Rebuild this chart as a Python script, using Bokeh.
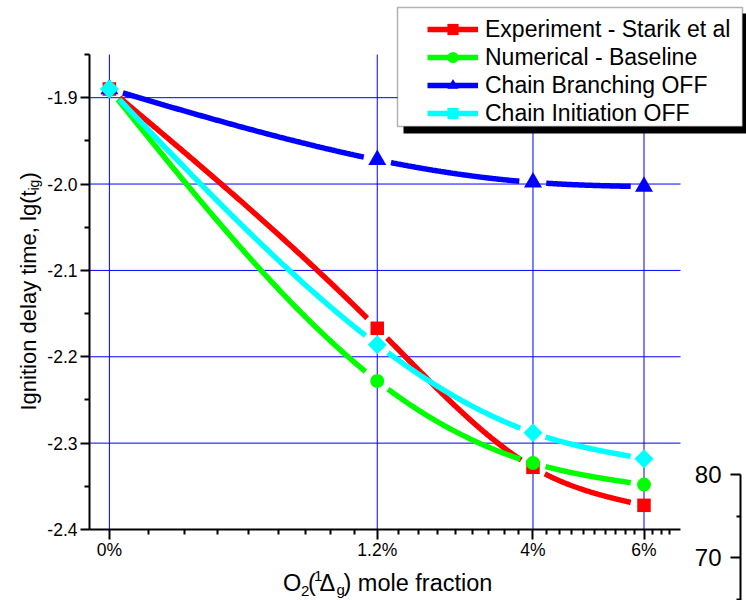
import math
import numpy as np
from bokeh.plotting import figure
from bokeh.models import (Range1d, LinearAxis, FixedTicker, NumeralTickFormatter,
                          Legend, LegendItem, BoxAnnotation, Label)
from bokeh.embed import file_html
from bokeh.resources import INLINE

FONT = "Liberation Sans"

# ---------------- data ----------------
x_labels = ["0%", "1.2%", "4%", "6%"]
# position of each category on the original (reciprocal) x scale, counted in minor-tick steps
x_scale_steps = [0, 9, 18, 28]
x_minor_steps = [k for k in range(1, 32) if k not in x_scale_steps]

experiment = [-1.890, -2.167, -2.328, -2.372]
baseline = [-1.890, -2.228, -2.323, -2.348]
branching_off = [-1.890, -1.972, -1.998, -2.003]
initiation_off = [-1.890, -2.186, -2.288, -2.318]
series_names = ["Experiment - Starik et al", "Numerical - Baseline",
                "Chain Branching OFF", "Chain Initiation OFF"]

y_ticks = [-1.9, -2.0, -2.1, -2.2, -2.3, -2.4]
y_minor = [-1.85, -1.95, -2.05, -2.15, -2.25, -2.35]
stray_ticks = [70, 80]
stray_minor = [65, 75]

# ---------------- geometry (canvas pixels, origin top-left) ----------------
W, H = 746, 600
AX_LEFT, AX_RIGHT, AX_TOP, AX_BOTTOM = 89, 680, 54, 529
PX_FIRST, PX_LAST = 108.9, 643.5


def recip(k):
    return -1000.0 / (k + 25.0)


xp = [recip(k) for k in x_scale_steps]
sx = (PX_LAST - PX_FIRST) / (xp[-1] - xp[0])          # px per x unit
x_start = xp[0] - PX_FIRST / sx                         # value at canvas x = 0
x_end = x_start + W / sx
y_lo, y_hi = -2.4, -1.85
sy = (AX_BOTTOM - AX_TOP) / (y_hi - y_lo)              # px per y unit
y_start = y_lo - (H - AX_BOTTOM) / sy                   # value at canvas bottom
y_end = y_hi + AX_TOP / sy                              # value at canvas top


def xv(px):
    return x_start + px / sx


p = figure(width=W, height=H, x_range=Range1d(x_start, x_end),
           y_range=Range1d(y_start, y_end), output_backend="svg",
           toolbar_location=None)
p.min_border = 0
p.min_border_left = p.min_border_right = p.min_border_top = p.min_border_bottom = 0
p.outline_line_color = None
p.background_fill_color = "white"
p.border_fill_color = "white"
p.xgrid.visible = False
p.ygrid.visible = False

# x axis
xa = p.xaxis[0]
xa.fixed_location = y_lo
xa.ticker = FixedTicker(ticks=xp, minor_ticks=[recip(k) for k in x_minor_steps])
xa.major_label_overrides = {v: lab for v, lab in zip(xp, x_labels)}
xa.bounds = (xv(AX_LEFT), xv(AX_RIGHT))
xa.axis_line_width = 2
xa.major_tick_line_width = 2
xa.minor_tick_line_width = 2
xa.major_tick_out = 10
xa.major_tick_in = 0
xa.minor_tick_out = 5
xa.minor_tick_in = 0
xa.major_label_standoff = 0
xa.major_label_text_font = FONT
xa.major_label_text_font_size = "17.5px"
xa.major_label_text_color = "black"

# y axis
ya = p.yaxis[0]
ya.fixed_location = xv(AX_LEFT)
ya.ticker = FixedTicker(ticks=y_ticks, minor_ticks=y_minor)
ya.formatter = NumeralTickFormatter(format="0.0")
ya.bounds = (y_lo, y_hi)
ya.axis_line_width = 2
ya.major_tick_line_width = 2
ya.minor_tick_line_width = 2
ya.major_tick_out = 9
ya.major_tick_in = 0
ya.minor_tick_out = 5
ya.minor_tick_in = 0
ya.major_label_standoff = 3
ya.major_label_text_font = FONT
ya.major_label_text_font_size = "17.5px"
ya.major_label_text_color = "black"

# grid lines (drawn as segments so they stop where the axes stop)
p.segment(x0=xp, y0=[y_lo] * len(xp), x1=xp, y1=[y_hi] * len(xp),
          line_color="#0000ff", line_width=1)
gy = y_ticks[:-1]
p.segment(x0=[xv(AX_LEFT)] * len(gy), y0=gy, x1=[xv(AX_RIGHT)] * len(gy), y1=gy,
          line_color="#0000ff", line_width=1)


# ---------------- curves ----------------
def natural_cubic(xk, yk, n=160):
    xk = np.asarray(xk, float)
    yk = np.asarray(yk, float)
    m = len(xk)
    h = np.diff(xk)
    A = np.zeros((m, m))
    r = np.zeros(m)
    A[0, 0] = A[-1, -1] = 1.0
    for i in range(1, m - 1):
        A[i, i - 1] = h[i - 1]
        A[i, i] = 2 * (h[i - 1] + h[i])
        A[i, i + 1] = h[i]
        r[i] = 6 * ((yk[i + 1] - yk[i]) / h[i] - (yk[i] - yk[i - 1]) / h[i - 1])
    M = np.linalg.solve(A, r)
    xs, ys = [], []
    for i in range(m - 1):
        t = np.linspace(xk[i], xk[i + 1], n)
        a = xk[i + 1] - t
        b = t - xk[i]
        y = (M[i] * a ** 3 + M[i + 1] * b ** 3) / (6 * h[i]) \
            + (yk[i] / h[i] - M[i] * h[i] / 6) * a \
            + (yk[i + 1] / h[i] - M[i + 1] * h[i] / 6) * b
        xs.append(t)
        ys.append(y)
    return np.concatenate(xs), np.concatenate(ys)


def gapped(xk, yk, gap=13.0):
    xs, ys = natural_cubic(xk, yk)
    keep = np.ones(len(xs), bool)
    for a, b in zip(xk, yk):
        d = np.hypot((xs - a) * sx, (ys - b) * sy)
        keep &= d > gap
    segs_x, segs_y = [], []
    cur_x, cur_y = [], []
    for k in range(len(xs)):
        if keep[k]:
            cur_x.append(float(xs[k]))
            cur_y.append(float(ys[k]))
        elif cur_x:
            segs_x.append(cur_x)
            segs_y.append(cur_y)
            cur_x, cur_y = [], []
    if cur_x:
        segs_x.append(cur_x)
        segs_y.append(cur_y)
    return segs_x, segs_y


series = [experiment, baseline, branching_off, initiation_off]
colors = ["#ff0000", "#00ff00", "#0000ff", "#00ffff"]
markers = ["square", "circle", "triangle", "square"]
angles = [0.0, 0.0, 0.0, math.pi / 4]
sizes = [13.5, 14, 18, 13.5]

items = []
for vals, col, mk, ang, sz, name in zip(series, colors, markers, angles, sizes, series_names):
    gx, gyy = gapped(xp, vals)
    ml = p.multi_line(xs=gx, ys=gyy, line_color=col, line_width=5.5)
    sc = p.scatter(x=xp, y=vals, marker=mk, size=sz, angle=ang,
                   fill_color=col, line_color=None)
    items.append(LegendItem(label=name, renderers=[ml, sc]))


def scx(px):
    return px


def scy(py):
    return H - py


# ---------------- legend with drop shadow ----------------
shadow = BoxAnnotation(left=scx(403), right=scx(748), top=scy(13), bottom=scy(133),
                       left_units="screen", right_units="screen",
                       top_units="screen", bottom_units="screen",
                       fill_color="black", fill_alpha=1.0, line_color=None)
box = BoxAnnotation(left=scx(397), right=scx(742), top=scy(7), bottom=scy(126),
                    left_units="screen", right_units="screen",
                    top_units="screen", bottom_units="screen",
                    fill_color="white", fill_alpha=1.0, line_color="black",
                    line_width=1.5)
p.add_layout(shadow)
p.add_layout(box)

ROW_H = 28
leg_top = 29 - ROW_H / 2
legend = Legend(items=items, location=(scx(427), scy(leg_top + 4 * ROW_H)),
                padding=0, margin=0, spacing=0, glyph_width=51,
                glyph_height=ROW_H, label_height=ROW_H, label_standoff=7,
                label_text_font=FONT, label_text_font_size="23px",
                label_text_color="black", background_fill_alpha=0.0,
                border_line_color=None)
p.add_layout(legend)

# ---------------- axis titles (with sub/superscripts) ----------------
x_title = [("O", 282.5, 582, "23.5px"), ("2", 300.5, 590, "15px"),
           ("(", 307.5, 582, "23.5px"), ("1", 313.5, 575, "15px"),
           ("\u0394", 319.0, 582, "23.5px"), ("g", 336.0, 589, "15px"),
           (") mole fraction", 343.0, 582, "23.5px")]
for txt, px, py, fs in x_title:
    p.add_layout(Label(x=scx(px), y=scy(py), x_units="screen", y_units="screen",
                       text=txt, text_font=FONT, text_font_size=fs,
                       text_baseline="alphabetic", text_align="left",
                       text_color="black"))

y_title = [("Ignition delay time, lg(t", 28, 410, "22px"),
           ("ig", 33, 190, "14px"), (")", 28, 179, "22px")]
for txt, px, py, fs in y_title:
    p.add_layout(Label(x=scx(px), y=scy(py), x_units="screen", y_units="screen",
                       text=txt, text_font=FONT, text_font_size=fs,
                       text_baseline="alphabetic", text_align="left",
                       angle=math.pi / 2, text_color="black"))

# ---------------- axis stub of a neighbouring layer (right edge) ----------------
STRAY_80_PX, STRAY_PX_PER_UNIT = 474.0, 8.33
stray_top = 80 + STRAY_80_PX / STRAY_PX_PER_UNIT
stray_bottom = 80 - (H - STRAY_80_PX) / STRAY_PX_PER_UNIT
p.extra_y_ranges = {"stray": Range1d(stray_bottom, stray_top)}
stray = LinearAxis(y_range_name="stray", fixed_location=xv(740),
                   ticker=FixedTicker(ticks=stray_ticks, minor_ticks=stray_minor),
                   bounds=(60, 80), axis_line_width=2, major_tick_in=0,
                   major_tick_out=10, minor_tick_in=0, minor_tick_out=4,
                   major_tick_line_width=2, minor_tick_line_width=2,
                   major_label_standoff=9, major_label_text_font=FONT,
                   major_label_text_font_size="24px",
                   major_label_text_color="black")
p.add_layout(stray, "left")

open("out.html", "w").write(file_html(p, INLINE))
